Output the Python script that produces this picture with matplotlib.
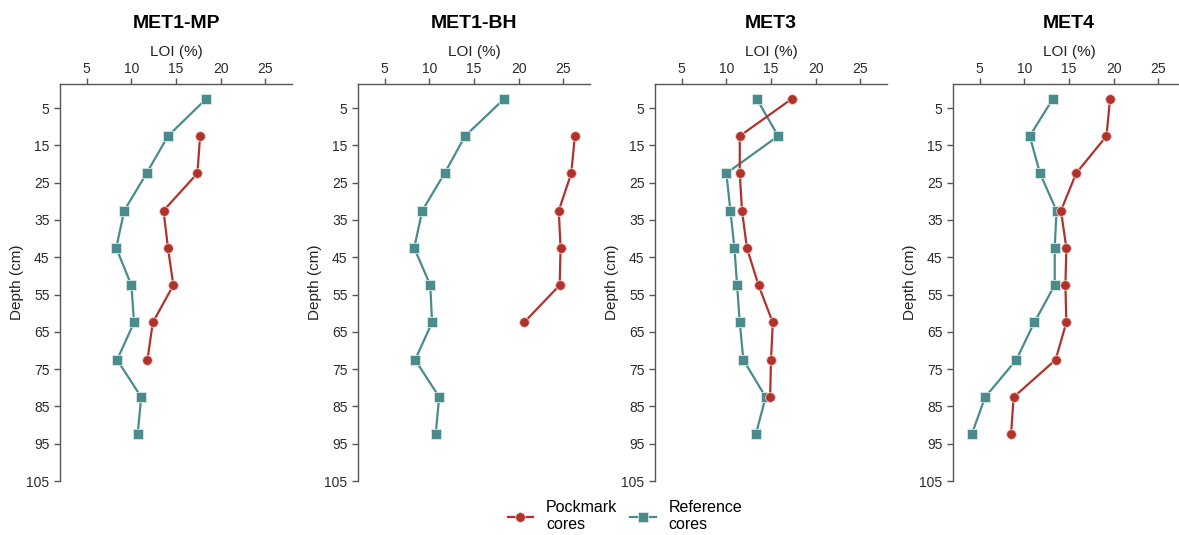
import matplotlib
matplotlib.use("Agg")
import matplotlib.pyplot as plt

plt.rcParams['font.family'] = ['Liberation Sans', 'DejaVu Sans']

# depth of each sample (cm)
depth = [2.5, 12.5, 22.5, 32.5, 42.5, 52.5, 62.5, 72.5, 82.5, 92.5]

sites = ["MET1-MP", "MET1-BH", "MET3", "MET4"]

# LOI (%)
pock_mp = [None, 17.7, 17.4, 13.6, 14.1, 14.7, 12.4, 11.8]
ref_mp = [18.4, 14.1, 11.7, 9.2, 8.3, 10.0, 10.3, 8.4, 11.1, 10.7]

pock_bh = [None, 26.3, 25.9, 24.5, 24.7, 24.6, 20.6]
ref_bh = [18.4, 14.0, 11.7, 9.2, 8.3, 10.1, 10.3, 8.4, 11.1, 10.7]

pock_3 = [17.35, 11.5, 11.5, 11.75, 12.3, 13.6, 15.2, 15.0, 14.9]
ref_3 = [13.4, 15.8, 10.0, 10.45, 10.9, 11.2, 11.5, 11.9, 14.4, 13.3]

pock_4 = [19.6, 19.2, 15.8, 14.1, 14.7, 14.6, 14.7, 13.5, 8.8, 8.5]
ref_4 = [13.2, 10.6, 11.75, 13.6, 13.4, 13.4, 11.1, 9.1, 5.6, 4.1]

pockmark = [pock_mp, pock_bh, pock_3, pock_4]
reference = [ref_mp, ref_bh, ref_3, ref_4]

x_ticks = [5, 10, 15, 20, 25]
y_ticks = [5, 15, 25, 35, 45, 55, 65, 75, 85, 95, 105]

red = "#b0322a"
teal = "#4a8b8b"
spine_col = "#555555"

W, H = 1179, 535
fig = plt.figure(figsize=(W / 100, H / 100), dpi=100)

lefts = [60, 358, 655, 953]
for i, site in enumerate(sites):
    ax = fig.add_axes([lefts[i] / W, 54 / H, 232 / W, 397 / H])

    pk = pockmark[i]
    d_pk = [d for d, v in zip(depth, pk) if v is not None]
    v_pk = [v for v in pk if v is not None]
    rf = reference[i]
    ax.plot(rf, depth[:len(rf)], color=teal, lw=1.6, marker='s', ms=7.5,
            mec='#d8e8e8', mew=0.6, label="Reference\ncores", zorder=3)
    ax.plot(v_pk, d_pk, color=red, lw=1.6, marker='o', ms=7,
            mec='#f0d0cc', mew=0.6, label="Pockmark\ncores", zorder=4)

    ax.set_xlim(2, 28)
    ax.set_ylim(105, -1.45)
    ax.xaxis.tick_top()
    ax.xaxis.set_label_position('top')
    ax.set_xticks(x_ticks)
    ax.set_yticks(y_ticks)
    ax.set_xlabel("LOI (%)", fontsize=11, color='#222222', labelpad=4)
    ax.set_ylabel("Depth (cm)", fontsize=11, color='#222222', labelpad=2)

    # panel title, placed above the LOI label
    fig.text((lefts[i] + 116) / W, 1 - 23 / H, site, fontsize=14,
             fontweight='bold', ha='center', va='center')

    for s in ['right', 'bottom']:
        ax.spines[s].set_visible(False)
    for s in ['left', 'top']:
        ax.spines[s].set_color(spine_col)
        ax.spines[s].set_linewidth(1.0)
    ax.tick_params(axis='both', colors=spine_col, labelcolor='#2a2a2a',
                   labelsize=10, length=4, width=1.0)
    ax.tick_params(axis='x', pad=2)

handles, labels = ax.get_legend_handles_labels()
fig.legend(handles[::-1], labels[::-1], loc='center', ncol=2,
           bbox_to_anchor=(0.530, 0.035), frameon=False, fontsize=11.5,
           handlelength=1.6, columnspacing=0.8, labelspacing=0.1,
           handletextpad=0.8)

fig.savefig("out.png", dpi=100)
